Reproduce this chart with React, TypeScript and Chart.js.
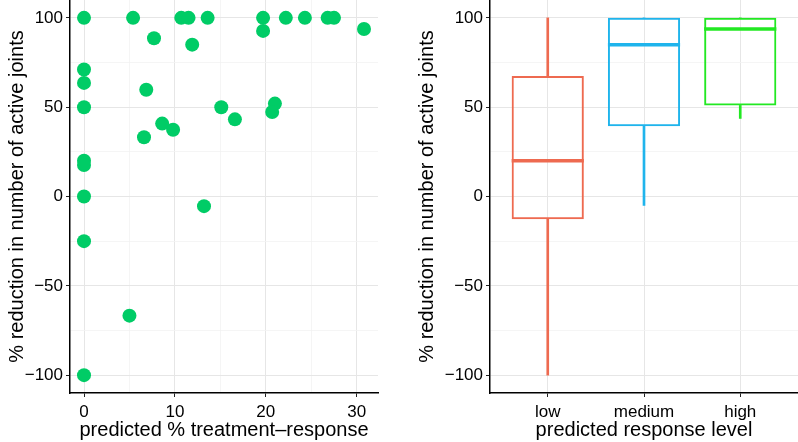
import React, { useEffect, useRef } from 'react';
import { Chart, registerables } from 'chart.js';

Chart.register(...registerables);

// ---- data: left panel (scatter) ----
const scatterX = [0, 5.4, 7.7, 10.7, 11.5, 11.9, 13.6, 19.7, 19.7, 22.2, 24.3, 26.8, 27.5, 30.8,
  0, 0, 0, 6.85, 6.6, 8.6, 9.8, 15.1, 16.6, 21.0, 20.7, 0, 0, 0, 13.2, 0, 5.0, 0];
const scatterY = [100, 100, 88.6, 100, 100, 85, 100, 100, 92.7, 100, 100, 100, 100, 93.8,
  71.1, 63.6, 50, 59.8, 33.2, 40.8, 37.4, 50, 43.2, 52, 47.3, 20, 17.6, 0, -5.4, -25, -66.7, -100];
const xTicksLeft = [0, 5, 10, 15, 20, 25, 30];
const xLabeledLeft = [0, 10, 20, 30];
const yTicks = [-100, -75, -50, -25, 0, 25, 50, 75, 100];
const yLabeled = [-100, -50, 0, 50, 100];

// ---- data: right panel (box plot) ----
const categories = ['low', 'medium', 'high'];
const whiskerLow = [-100, -5, 43.7];
const q1 = [-12.7, 39.3, 51];
const median = [20, 85, 93.8];
const q3 = [67.4, 100, 100];
const whiskerHigh = [100, 100, 100];
const boxColors = ['#EE6A50', '#1FB4EC', '#22E822'];

const pointColor = '#00CC66';
const boxWidth = 0.75; // ggplot default box width (in category units)
const family = "'Liberation Sans', Arial, Helvetica, sans-serif";
const tickFont = { family, size: 17 };
const titleFont = { family, size: 20 };
const majorGrid = '#e6e6e6';
const minorGrid = '#f2f2f2';

const fixSize = (w?: number, h?: number) => (s: any) => {
  if (w !== undefined) s.width = w;
  if (h !== undefined) s.height = h;
  s.paddingTop = 0;
  s.paddingBottom = 0;
  s.paddingLeft = 0;
  s.paddingRight = 0;
};

const fmt = (v: number) => (v < 0 ? '\u2212' + Math.abs(v) : String(v));

const yScale = (width: number) => ({
  type: 'linear' as const,
  min: -110,
  max: 110,
  afterBuildTicks: (s: any) => {
    s.ticks = yTicks.map((v) => ({ value: v }));
  },
  afterFit: fixSize(width, undefined),
  ticks: {
    font: tickFont,
    color: '#000',
    padding: 3,
    autoSkip: false,
    callback: (v: any) => (yLabeled.includes(v) ? fmt(v) : ''),
  },
  grid: {
    color: (c: any) => (c.tick && yLabeled.includes(c.tick.value) ? majorGrid : minorGrid),
    lineWidth: (c: any) => (c.tick && yLabeled.includes(c.tick.value) ? 1 : 0.8),
    tickLength: 4,
    tickWidth: 1,
    tickColor: (c: any) => (c.tick && yLabeled.includes(c.tick.value) ? '#222' : 'rgba(0,0,0,0)'),
  },
  border: { color: '#000', width: 1.5 },
  title: {
    display: true,
    text: '% reduction in number of active joints',
    font: titleFont,
    color: '#000',
    padding: { top: 5, bottom: 0 },
  },
});

function ScatterPanel() {
  const ref = useRef<HTMLCanvasElement | null>(null);
  useEffect(() => {
    if (!ref.current) return;
    const chart = new Chart(ref.current, {
      type: 'scatter',
      data: {
        datasets: [
          {
            data: scatterX.map((x, i) => ({ x, y: scatterY[i] })),
            backgroundColor: pointColor,
            borderColor: pointColor,
            borderWidth: 0,
            pointRadius: 7,
          },
        ],
      },
      options: {
        responsive: false,
        animation: false,
        events: [],
        layout: { autoPadding: false, padding: { top: 0, right: 21, bottom: 0, left: 0 } },
        plugins: { legend: { display: false }, tooltip: { enabled: false } },
        scales: {
          x: {
            type: 'linear',
            min: -1.54,
            max: 32.34,
            afterBuildTicks: (s: any) => {
              s.ticks = xTicksLeft.map((v) => ({ value: v }));
            },
            afterFit: fixSize(undefined, 49),
            ticks: {
              font: tickFont,
              color: '#000',
              padding: 5,
              autoSkip: false,
              maxRotation: 0,
              callback: (v: any) => (xLabeledLeft.includes(v) ? String(v) : ''),
            },
            grid: {
              color: (c: any) => (c.tick && xLabeledLeft.includes(c.tick.value) ? majorGrid : minorGrid),
              lineWidth: (c: any) => (c.tick && xLabeledLeft.includes(c.tick.value) ? 1 : 0.8),
              tickLength: 4,
              tickWidth: 1,
              tickColor: (c: any) => (c.tick && xLabeledLeft.includes(c.tick.value) ? '#222' : 'rgba(0,0,0,0)'),
            },
            border: { color: '#000', width: 1.5 },
            title: {
              display: true,
              text: 'predicted % treatment\u2013response',
              font: titleFont,
              color: '#000',
              padding: { top: 0, bottom: 0 },
            },
          },
          y: yScale(70) as any,
        },
      },
    } as any);
    return () => chart.destroy();
  }, []);
  return <canvas ref={ref} width={399} height={442} style={{ display: 'block' }} />;
}

function BoxPanel() {
  const ref = useRef<HTMLCanvasElement | null>(null);
  useEffect(() => {
    if (!ref.current) return;
    const xs = categories.map((_, i) => i + 1);
    const whiskerDs = (lo: number[], hi: number[]) => ({
      type: 'bar',
      grouped: false,
      data: xs.map((x, i) => ({ x, y: [lo[i], hi[i]] })),
      backgroundColor: boxColors,
      borderWidth: 0,
      barThickness: 2,
      order: 3,
    });
    const boxDs = {
      type: 'bar',
      grouped: false,
      data: xs.map((x, i) => ({ x, y: [q1[i], q3[i]] })),
      backgroundColor: 'rgba(255,255,255,0)',
      borderColor: boxColors,
      borderWidth: 2,
      borderSkipped: false,
      barPercentage: boxWidth,
      categoryPercentage: 1,
      order: 2,
    };
    const medianDs = categories.map((_, i) => ({
      type: 'line',
      data: [
        { x: xs[i] - boxWidth / 2, y: median[i] },
        { x: xs[i] + boxWidth / 2, y: median[i] },
      ],
      borderColor: boxColors[i],
      borderWidth: 3.5,
      pointRadius: 0,
      fill: false,
      order: 1,
    }));
    const chart = new Chart(ref.current, {
      type: 'bar',
      data: {
        datasets: [whiskerDs(whiskerLow, q1), whiskerDs(q3, whiskerHigh), boxDs, ...medianDs],
      },
      options: {
        responsive: false,
        animation: false,
        events: [],
        layout: { autoPadding: false, padding: { top: 0, right: 0, bottom: 0, left: 11 } },
        plugins: { legend: { display: false }, tooltip: { enabled: false } },
        scales: {
          x: {
            type: 'linear',
            min: 0.4,
            max: 3.6,
            offset: false,
            afterBuildTicks: (s: any) => {
              s.ticks = xs.map((v) => ({ value: v }));
            },
            afterFit: fixSize(undefined, 49),
            ticks: {
              font: tickFont,
              color: '#000',
              padding: 5,
              autoSkip: false,
              maxRotation: 0,
              callback: (v: any) => categories[v - 1] ?? '',
            },
            grid: {
              color: majorGrid,
              lineWidth: 1,
              tickLength: 4,
              tickWidth: 1,
              tickColor: '#222',
              offset: false,
            },
            border: { color: '#000', width: 1.5 },
            title: {
              display: true,
              text: 'predicted response level',
              font: titleFont,
              color: '#000',
              padding: { top: 0, bottom: 0 },
            },
          },
          y: yScale(80) as any,
        },
      },
    } as any);
    return () => chart.destroy();
  }, []);
  return <canvas ref={ref} width={399} height={442} style={{ display: 'block' }} />;
}

export default function App() {
  return (
    <div style={{ position: 'absolute', left: 0, top: 0, width: 798, height: 442, background: '#fff' }}>
      <div style={{ position: 'absolute', left: 0, top: 0 }}>
        <ScatterPanel />
      </div>
      <div style={{ position: 'absolute', left: 399, top: 0 }}>
        <BoxPanel />
      </div>
    </div>
  );
}
